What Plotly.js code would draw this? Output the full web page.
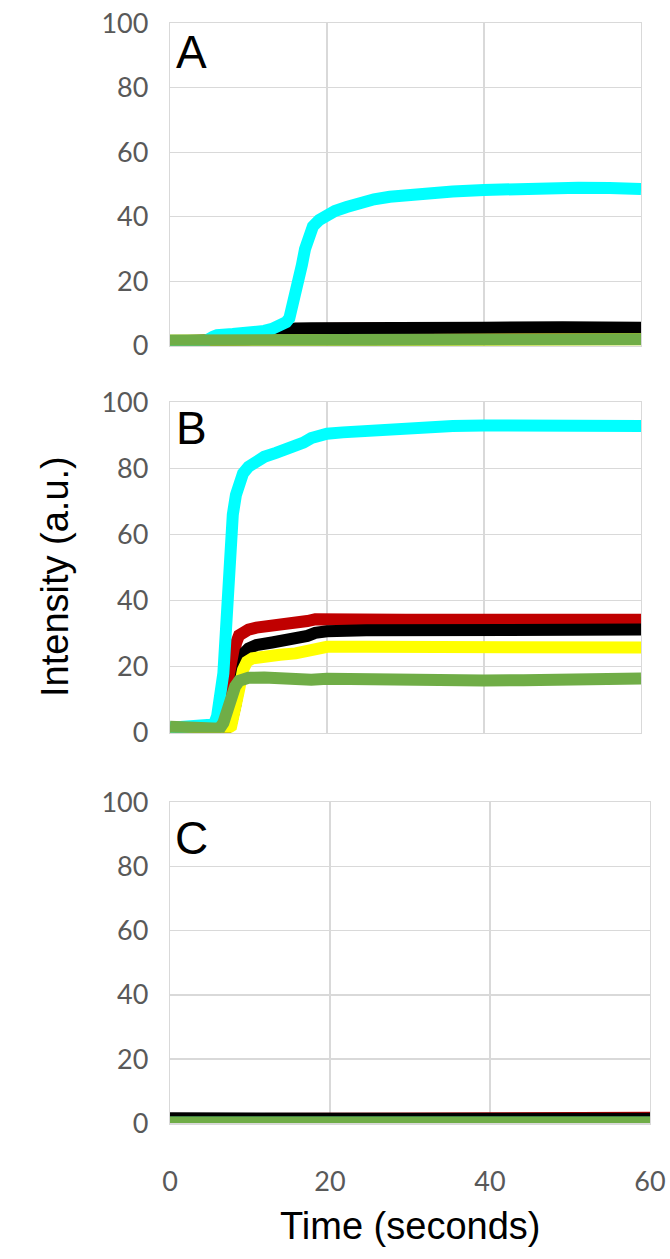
<!DOCTYPE html>
<html>
<head>
<meta charset="utf-8">
<script src="https://cdn.plot.ly/plotly-3.0.1.min.js"></script>
<style>
  html, body { margin: 0; padding: 0; background: #ffffff; }
  #chart { width: 670px; height: 1259px; }
</style>
</head>
<body>
<div id="chart"></div>
<script>
// ---------------- DATA ----------------
const panelLabels = ["A", "B", "C"];
const xTickVals = [0, 20, 40, 60];
const yTickVals = [0, 20, 40, 60, 80, 100];
const xTitle = "Time (seconds)";
const yTitle = "Intensity (a.u.)";

// Panel A
const A_red_t    = [0, 5, 9, 10, 11, 12, 13, 14, 15, 16, 18, 20, 25, 30, 40, 50, 60];
const A_red_y    = [1.2, 1.3, 1.5, 1.9, 2.4, 3.0, 3.8, 4.4, 4.8, 5.0, 5.2, 5.3, 5.4, 5.4, 5.5, 5.5, 5.4];
const A_black_t  = [0, 5, 9, 10, 11, 12, 13, 14, 15, 16, 18, 20, 25, 30, 40, 50, 60];
const A_black_y  = [1.3, 1.4, 1.6, 2.0, 2.5, 3.2, 4.0, 4.7, 5.1, 5.3, 5.4, 5.5, 5.6, 5.6, 5.6, 5.7, 5.6];
const A_yellow_t = [0, 5, 10, 14, 16, 20, 30, 40, 50, 60];
const A_yellow_y = [1.5, 1.5, 1.6, 1.8, 1.9, 2.0, 2.0, 2.0, 2.0, 2.0];
const A_cyan_t   = [0, 4.5, 5.5, 6, 8, 10, 11, 12, 13, 14, 14.8, 15.2, 15.6, 16.0, 16.4, 16.8, 17.2, 17.6, 18.2, 19, 20, 21, 22.5, 24, 26, 28, 30, 33, 36, 40, 44, 48, 52, 56, 60];
const A_cyan_y   = [1.3, 1.4, 2.8, 3.3, 3.6, 3.7, 4.0, 4.6, 5.2, 6.2, 7.3, 8.5, 12, 17, 21, 25, 30, 34, 37, 39, 40.5, 41.8, 43, 44.2, 45.4, 46.2, 46.8, 47.4, 47.8, 48.3, 48.7, 49, 49, 48.9, 48.6];
const A_green_t  = [0, 5, 10, 12, 14, 16, 20, 30, 40, 50, 60];
const A_green_y  = [1.6, 1.6, 1.7, 1.8, 1.9, 2.0, 2.0, 2.0, 2.0, 2.0, 2.0];

// Panel B
const B_red_t    = [0, 6.2, 6.8, 7.2, 7.6, 8.0, 8.4, 8.8, 9.3, 10, 11, 13, 15, 16.5, 17.5, 18.5, 20, 25, 30, 40, 50, 60];
const B_red_y    = [0.8, 0.8, 2, 6, 14, 22, 27, 29.5, 30.5, 31.2, 31.8, 32.2, 32.6, 33, 33.8, 34.3, 34.4, 34.3, 34.2, 34.2, 34.2, 34.2];
const B_black_t  = [0, 5.8, 6.3, 6.8, 7.3, 7.8, 8.3, 8.8, 9.2, 9.6, 10, 11, 13, 15, 16.5, 17.5, 18.5, 20, 25, 30, 40, 50, 60];
const B_black_y  = [0.8, 0.9, 2.5, 2.8, 1.5, 3, 8, 17, 22, 24.5, 25.5, 26.5, 27.3, 27.8, 28.3, 29.3, 30.2, 30.7, 31, 31, 31, 31, 31.2];
const B_yellow_t = [0, 7, 7.8, 8.3, 8.8, 9.3, 9.8, 10.5, 12, 14, 16, 17.5, 18.5, 20, 25, 30, 40, 50, 60];
const B_yellow_y = [0.8, 0.8, 2, 6, 13, 19, 21.5, 22.5, 23.2, 23.6, 24, 24.8, 25.7, 26, 26, 26, 26, 26, 25.8];
const B_cyan_t   = [0, 5.0, 5.6, 6.0, 6.4, 6.8, 7.1, 7.4, 7.7, 8.0, 8.4, 8.8, 9.3, 10, 11, 12, 13.5, 15, 16, 17, 18, 19, 20, 22, 25, 28, 32, 36, 40, 45, 50, 55, 60];
const B_cyan_y   = [1.5, 1.6, 2.5, 5, 10, 18, 30, 45, 58, 66, 72, 76, 78.5, 80.5, 82.3, 83.5, 84.7, 85.7, 86.5, 87.8, 89.2, 90, 90.5, 90.9, 91.4, 91.9, 92.4, 92.8, 93, 93.1, 93, 92.9, 92.8];
const B_green_t  = [0, 3, 5.5, 6.3, 6.8, 7.3, 7.8, 8.3, 8.8, 9.3, 10, 12, 15, 18, 20, 25, 30, 35, 40, 45, 50, 55, 60];
const B_green_y  = [1.8, 1.9, 1.7, 1.2, 3, 7, 11, 14, 15.7, 16.3, 16.6, 16.7, 16.2, 16.0, 16.3, 16.0, 15.7, 15.6, 15.8, 15.9, 15.9, 16.1, 16.4];

// Panel C
const C_t        = [0, 5, 10, 15, 20, 30, 40, 50, 60];
const C_red_y    = [1.3, 1.3, 1.4, 1.6, 1.6, 1.6, 1.6, 1.6, 1.7];
const C_black_y  = [1.6, 1.7, 1.6, 1.5, 1.4, 1.4, 1.4, 1.4, 1.4];
const C_yellow_y = [0.2, 0.2, 0.2, 0.2, 0.2, 0.2, 0.2, 0.2, 0.2];
const C_cyan_y   = [0.2, 0.2, 0.2, 0.2, 0.2, 0.2, 0.2, 0.2, 0.2];
const C_green_y  = [0.2, 0.2, 0.2, 0.2, 0.2, 0.2, 0.2, 0.2, 0.2];

const seriesColors = { red: "#c00000", black: "#000000", yellow: "#ffff00", cyan: "#00ffff", green: "#70ad47" };

// ---------------- LAYOUT HELPERS ----------------
const W = 670, H = 1259;
const px = v => v / W;
const py = v => 1 - v / H;

const panels = [
  { x: [170, 641], y: [23.3, 345.7], label: [191, 51.5],
    series: [["red", A_red_t, A_red_y], ["black", A_black_t, A_black_y], ["yellow", A_yellow_t, A_yellow_y], ["cyan", A_cyan_t, A_cyan_y], ["green", A_green_t, A_green_y]] },
  { x: [170, 641], y: [402.3, 732.7], label: [191, 428],
    series: [["red", B_red_t, B_red_y], ["black", B_black_t, B_black_y], ["yellow", B_yellow_t, B_yellow_y], ["cyan", B_cyan_t, B_cyan_y], ["green", B_green_t, B_green_y]] },
  { x: [170, 650], y: [802.3, 1123.3], label: [191, 838],
    series: [["red", C_t, C_red_y], ["black", C_t, C_black_y], ["yellow", C_t, C_yellow_y], ["cyan", C_t, C_cyan_y], ["green", C_t, C_green_y]] }
];

const traces = [];
const layout = {
  width: W, height: H,
  margin: { l: 0, r: 0, t: 0, b: 0 },
  paper_bgcolor: "#ffffff",
  plot_bgcolor: "#ffffff",
  showlegend: false,
  annotations: []
};

const tickFont = { family: "Lato, 'Liberation Sans', sans-serif", size: 27, color: "#595959" };

panels.forEach((p, i) => {
  const n = i === 0 ? "" : String(i + 1);
  const xa = "x" + n, ya = "y" + n;
  p.series.forEach(([c, t, y]) => {
    traces.push({
      x: t, y: y, xaxis: xa, yaxis: ya,
      type: "scatter", mode: "lines",
      line: { color: seriesColors[c], width: 12 },
      hoverinfo: "skip"
    });
  });
  layout["xaxis" + n] = {
    domain: [px(p.x[0]), px(p.x[1])], anchor: ya,
    range: [0, 60], tickvals: xTickVals, ticks: "",
    showticklabels: i === 2, tickfont: tickFont, ticklabelstandoff: 34,
    showgrid: true, gridcolor: "#d9d9d9", gridwidth: 1.2,
    zeroline: false, showline: true, mirror: true, linecolor: "#d9d9d9", linewidth: 1.2,
    fixedrange: true
  };
  layout["yaxis" + n] = {
    domain: [py(p.y[1]), py(p.y[0])], anchor: xa,
    range: [0, 100], tickvals: yTickVals, ticks: "",
    tickfont: tickFont, ticklabelstandoff: 15,
    showgrid: true, gridcolor: "#d9d9d9", gridwidth: 1.2,
    zeroline: false, showline: true, mirror: true, linecolor: "#d9d9d9", linewidth: 1.2,
    fixedrange: true
  };
  layout.annotations.push({
    text: panelLabels[i], xref: "paper", yref: "paper",
    x: px(p.label[0]), y: py(p.label[1]), xanchor: "center", yanchor: "middle",
    showarrow: false, font: { family: "'Liberation Sans', Arial, sans-serif", size: 46, color: "#000000" }
  });
});

layout.annotations.push({
  text: yTitle, xref: "paper", yref: "paper", x: px(55), y: py(577),
  xanchor: "center", yanchor: "middle", textangle: -90, showarrow: false,
  font: { family: "'Liberation Sans', Arial, sans-serif", size: 38, color: "#000000" }
});
layout.annotations.push({
  text: xTitle, xref: "paper", yref: "paper", x: px(410), y: py(1226),
  xanchor: "center", yanchor: "middle", showarrow: false,
  font: { family: "'Liberation Sans', Arial, sans-serif", size: 38, color: "#000000" }
});

Plotly.newPlot("chart", traces, layout, { staticPlot: true, displayModeBar: false });
</script>
</body>
</html>
